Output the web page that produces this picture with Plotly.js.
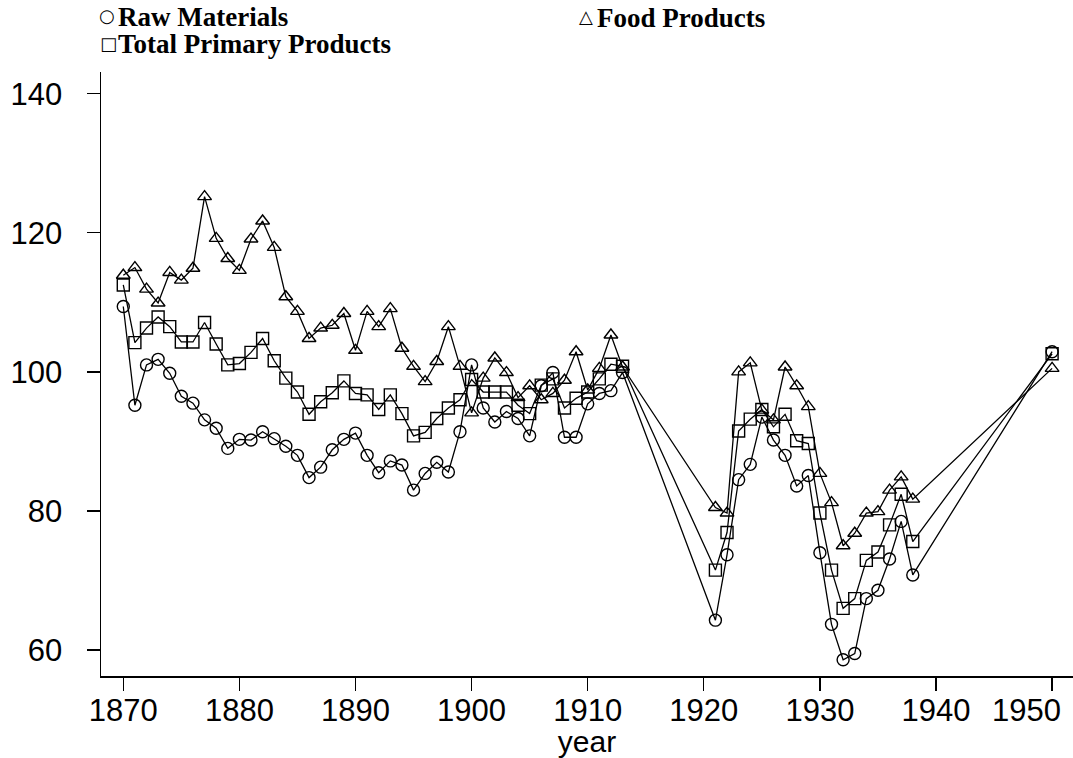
<!DOCTYPE html>
<html>
<head>
<meta charset="utf-8">
<script src="https://cdn.plot.ly/plotly-3.0.1.min.js"></script>
<style>html,body{margin:0;padding:0;background:#fff;}#chart{width:1073px;height:758px;}</style>
</head>
<body>
<div id="chart"></div>
<script>
// Years: annual 1870-1913, 1921-1938, and 1950
const years = [1870,1871,1872,1873,1874,1875,1876,1877,1878,1879,1880,1881,1882,1883,1884,1885,1886,1887,1888,1889,
  1890,1891,1892,1893,1894,1895,1896,1897,1898,1899,1900,1901,1902,1903,1904,1905,1906,1907,1908,1909,1910,1911,1912,1913,
  1921,1922,1923,1924,1925,1926,1927,1928,1929,1930,1931,1932,1933,1934,1935,1936,1937,1938,1950];

const rawMaterials = [109.4,95.2,101.0,101.8,99.8,96.5,95.5,93.1,91.9,89.0,90.3,90.2,91.4,90.4,89.3,88.0,84.8,86.3,88.8,90.3,
  91.2,88.0,85.5,87.2,86.6,83.0,85.4,87.0,85.6,91.4,101.0,94.8,92.8,94.3,93.3,90.8,98.0,99.9,90.6,90.6,95.4,96.9,97.3,99.9,
  64.3,73.7,84.5,86.7,93.5,90.2,88.0,83.6,85.1,74.0,63.7,58.6,59.5,67.4,68.6,73.1,78.5,70.8,102.9];

const foodProducts = [113.9,115.0,111.9,109.9,114.3,113.2,114.9,125.2,119.2,116.3,114.6,119.1,121.7,117.9,110.8,108.7,104.8,106.3,106.7,108.4,
  103.1,108.7,106.5,109.1,103.4,100.8,98.6,101.5,106.5,100.8,94.1,99.1,102.0,99.9,96.3,98.0,96.0,96.9,98.8,102.9,97.4,100.5,105.3,100.7,
  80.5,79.7,100.0,101.3,94.5,93.1,100.7,98.0,95.0,85.4,81.2,75.0,76.8,79.7,79.9,83.0,84.9,81.7,100.5];

const totalPrimary = [112.5,104.2,106.3,107.9,106.5,104.3,104.3,107.1,104.0,101.0,101.2,102.8,104.8,101.6,99.1,97.1,93.9,95.7,97.0,98.7,
  96.9,96.7,94.6,96.7,94.0,90.8,91.3,93.3,94.8,96.0,98.9,97.1,97.1,97.1,95.2,94.0,98.1,99.0,94.8,96.2,97.1,99.0,101.1,100.8,
  71.5,76.9,91.5,93.2,94.6,92.1,93.9,90.1,89.7,79.7,71.5,66.0,67.4,72.9,74.1,78.0,82.4,75.6,102.6];

const seriesNames = ["Raw Materials", "Food Products", "Total Primary Products"];
const legendSymbols = ["○", "△", "□"];
const xTicks = [1870,1880,1890,1900,1910,1920,1930,1940,1950];
const xTickText = ["1870","1880","1890","1900","1910","1920","1930","1940",""];
const yTicks = [60,80,100,120,140];

function mk(y, name, symbol) {
  return {
    x: years, y: y, name: name, type: 'scatter', mode: 'lines+markers',
    line: {color: '#000', width: 1.3},
    marker: {symbol: symbol, size: 12, color: '#000', line: {color: '#000', width: 1.4}},
    showlegend: false
  };
}

const data = [
  mk(rawMaterials, seriesNames[0], 'circle-open'),
  mk(foodProducts, seriesNames[1], 'triangle-up-open'),
  mk(totalPrimary, seriesNames[2], 'square-open')
];

const tickFont = {family: 'Liberation Sans, Arial, sans-serif', size: 31, color: '#000'};
const legFont = {family: 'Liberation Serif, Times New Roman, serif', size: 27, color: '#000'};
const symFont = {family: 'DejaVu Sans, sans-serif', size: 18, color: '#000'};

const L = 101, W = 972, T = 72, H = 604;
const px = p => (p - L) / W;
const py = p => (T + H - p) / H;

function legendItem(i, sx, sy, tx) {
  return [
    {xref: 'paper', yref: 'paper', x: px(sx), y: py(sy), xanchor: 'center', yanchor: 'middle',
     text: legendSymbols[i], showarrow: false, font: symFont, borderpad: 0},
    {xref: 'paper', yref: 'paper', x: px(tx), y: py(sy + 1), xanchor: 'left', yanchor: 'middle',
     text: '<b>' + seriesNames[i] + '</b>', showarrow: false, font: legFont, borderpad: 0}
  ];
}

const layout = {
  width: 1073, height: 758,
  margin: {l: L, r: 0, t: T, b: 758 - T - H, pad: 0},
  paper_bgcolor: '#fff', plot_bgcolor: '#fff',
  showlegend: false,
  xaxis: {
    range: [1868.08, 1951.8], tickvals: xTicks, ticktext: xTickText,
    ticks: 'outside', ticklen: 13, tickwidth: 1.3, tickcolor: '#000',
    showline: true, linecolor: '#000', linewidth: 1.5, showgrid: false, zeroline: false,
    tickfont: tickFont, ticklabelstandoff: -7,
    title: {text: 'year', font: {family: 'Liberation Sans, Arial, sans-serif', size: 30, color: '#000'}, standoff: 0}
  },
  yaxis: {
    range: [56.27, 143.12], tickvals: yTicks,
    ticks: 'outside', ticklen: 13, tickwidth: 1.3, tickcolor: '#000',
    showline: true, linecolor: '#000', linewidth: 1.5, showgrid: false, zeroline: false,
    tickfont: tickFont, ticklabelstandoff: 18
  },
  annotations: [
    {xref: 'x', yref: 'paper', x: 1950, y: 0, xanchor: 'right', yanchor: 'top', xshift: 11, yshift: -15,
     text: '1950', showarrow: false, font: tickFont}
  ].concat(legendItem(0, 107, 16, 117), legendItem(2, 108, 43, 117), legendItem(1, 586, 17, 596))
};

Plotly.newPlot('chart', data, layout, {displayModeBar: false, staticPlot: true});
</script>
</body>
</html>
